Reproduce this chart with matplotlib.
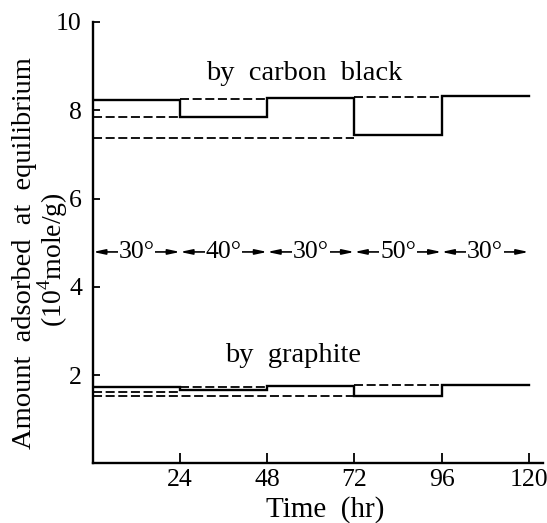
import matplotlib
matplotlib.use("Agg")
import matplotlib.pyplot as plt

# step boundaries (hr) and temperature programme
time_edges = [0, 24, 48, 72, 96, 120]
temps = ["30°", "40°", "30°", "50°", "30°"]
temp_row = 4.79  # height of the temperature arrows

# equilibrium amounts (10^4 mole/g), one per step
carbon_levels = [8.23, 7.85, 8.27, 7.44, 8.33]
graphite_levels = [1.72, 1.66, 1.75, 1.52, 1.77]

# dashed reference levels: start, end, level
carbon_ref_start = [24, 72, 0, 0]
carbon_ref_end = [48, 96, 24, 72]
carbon_ref_level = [8.25, 8.29, 7.85, 7.36]
graphite_ref_start = [24, 72, 0, 0]
graphite_ref_end = [48, 96, 24, 72]
graphite_ref_level = [1.72, 1.77, 1.61, 1.52]

plt.rcParams["font.family"] = ["Liberation Serif", "DejaVu Serif"]
plt.rcParams["mathtext.fontset"] = "custom"
plt.rcParams["mathtext.rm"] = "Liberation Serif"


def step(ax, levels):
    xs, ys = [], []
    for i, lv in enumerate(levels):
        xs += [time_edges[i], time_edges[i + 1]]
        ys += [lv, lv]
    ax.plot(xs, ys, color="black", lw=1.7, solid_joinstyle="miter")


def refs(ax, starts, ends, levels):
    for s, e, lv in zip(starts, ends, levels):
        ax.plot([s, e], [lv, lv], color="black", lw=1.3, dashes=(5, 2))


fig = plt.figure(figsize=(5.47, 5.23), dpi=100)
ax = fig.add_axes([0.170, 0.114, 0.823, 0.844])

step(ax, carbon_levels)
step(ax, graphite_levels)
refs(ax, carbon_ref_start, carbon_ref_end, carbon_ref_level)
refs(ax, graphite_ref_start, graphite_ref_end, graphite_ref_level)

for i, t in enumerate(temps):
    t0, t1 = time_edges[i], time_edges[i + 1]
    ax.annotate("", xy=(t1, temp_row), xytext=(t0, temp_row),
                arrowprops=dict(arrowstyle="<|-|>,head_length=0.7,head_width=0.15",
                                lw=1.2, color="black", shrinkA=0, shrinkB=0))
    ax.text((t0 + t1) / 2, temp_row, t, ha="center", va="center", fontsize=18.5,
            bbox=dict(facecolor="white", edgecolor="none", pad=0.5))

ax.text(58.2, 8.84, "by  carbon  black", ha="center", va="center", fontsize=20.5)
ax.text(55, 2.45, "by  graphite", ha="center", va="center", fontsize=20.5)

ax.set_xlim(0, 124)
ax.set_ylim(0, 10)
ax.set_xticks([24, 48, 72, 96, 120])
ax.set_yticks([2, 4, 6, 8, 10])
ax.spines[["top", "right"]].set_visible(False)
for sp in ("left", "bottom"):
    ax.spines[sp].set_linewidth(1.7)
ax.tick_params(axis="x", direction="in", length=7, width=1.3, labelsize=18.5, pad=4)
ax.tick_params(axis="y", direction="in", length=5, width=1.3, labelsize=18.5, pad=8)

fig.text(0.594, 0.026, "Time  (hr)", ha="center", va="center", fontsize=21)
# y label as two separate lines, like the printed figure
fig.text(0.044, 0.516, "Amount  adsorbed  at  equilibrium",
         ha="center", va="center", rotation=90, fontsize=20.5)
fig.text(0.097, 0.503, "(10$^{\\mathrm{4}}$mole/g)",
         ha="center", va="center", rotation=90, fontsize=20)

fig.savefig("out.png", dpi=100)
